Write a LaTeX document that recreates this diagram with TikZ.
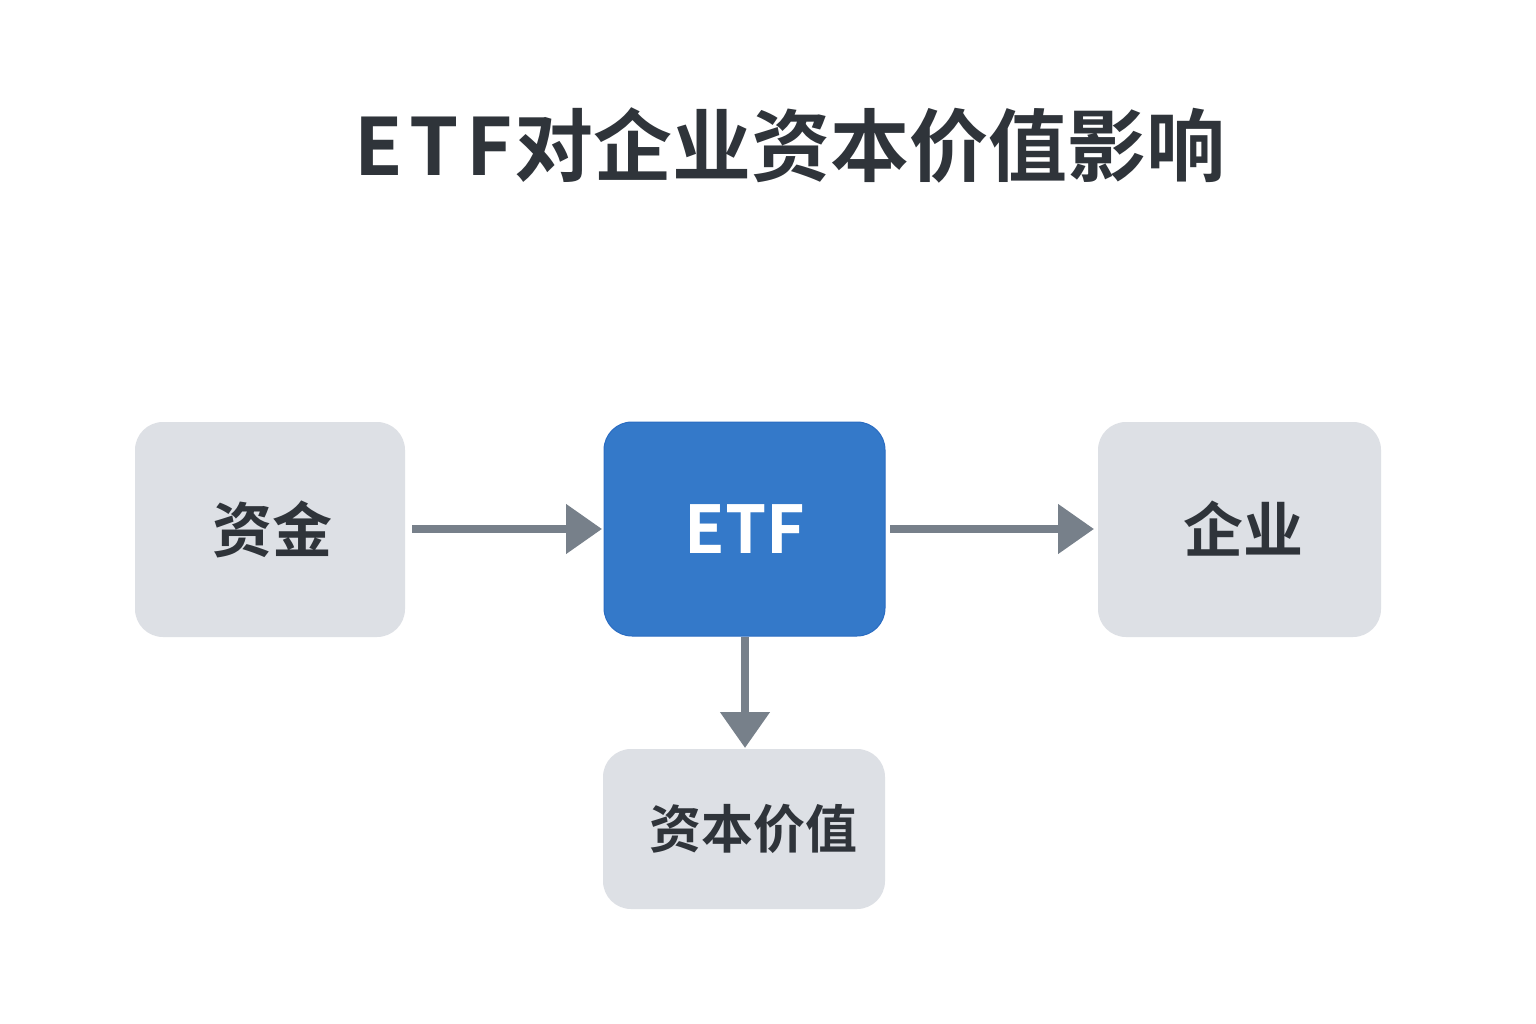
\documentclass[tikz,border=0pt]{standalone}
\usepackage{fontspec}
\setmainfont{Noto Sans CJK SC}
\newfontfamily\cjkb{Noto Sans CJK SC Bold}
\usetikzlibrary{arrows.meta}
\definecolor{boxgray}{HTML}{DDE0E5}
\definecolor{txtdark}{HTML}{2F343A}
\definecolor{arrgray}{HTML}{77808A}
\definecolor{etfblue}{HTML}{3479C9}
\definecolor{etfedge}{HTML}{2A6CC2}
\tikzset{
  graybox/.style={fill=boxgray, draw=none, rounded corners=28pt},
  bluebox/.style={fill=etfblue, draw=etfedge, line width=1pt, rounded corners=28pt},
  flow/.style={draw=arrgray, line width=8pt, -{Triangle[length=36pt,width=48pt]}},
  lbl/.style={font=\cjkb\fontsize{60}{60}\selectfont, text=txtdark}
}
\begin{document}
\begin{tikzpicture}[x=1pt,y=-1pt]
\useasboundingbox (0,0) rectangle (1536,1024);
\fill[white] (0,0) rectangle (1536,1024);
\node[font=\cjkb\fontsize{79}{79}\selectfont, text=txtdark] (title) at (790,145) {E\kern7pt T\kern7pt F\kern2pt 对企业资本价值影响};
\path[graybox] (135,422) rectangle (405,637);
\node[draw=none, minimum width=270pt, minimum height=215pt] (fund) at (270,529.5) {};
\node[lbl] (fundt) at (272,529) {资金};
\path[bluebox] (604,422) rectangle (885,636);
\node[draw=none, minimum width=281pt, minimum height=214pt] (etf) at (744.5,529) {};
\node[font=\cjkb\fontsize{66}{66}\selectfont, text=white] (etft) at (745,529) {ETF};
\path[graybox] (1098,422) rectangle (1381,637);
\node[draw=none, minimum width=283pt, minimum height=215pt] (ent) at (1239.5,529.5) {};
\node[lbl] (entt) at (1243,529) {企业};
\path[graybox] (603,749) rectangle (885,909);
\node[draw=none, minimum width=282pt, minimum height=160pt] (cap) at (744,829) {};
\node[font=\cjkb\fontsize{52}{52}\selectfont, text=txtdark] (capt) at (753,829) {资本价值};
\coordinate (a1s) at (412,529);
\coordinate (a1e) at (602,529);
\coordinate (a2s) at (890,529);
\coordinate (a2e) at (1094,529);
\coordinate (a3s) at (745,637);
\coordinate (a3e) at (745,748);
\draw[flow] (a1s) -- (a1e);
\draw[flow] (a2s) -- (a2e);
\draw[flow] (a3s) -- (a3e);
\end{tikzpicture}
\end{document}
